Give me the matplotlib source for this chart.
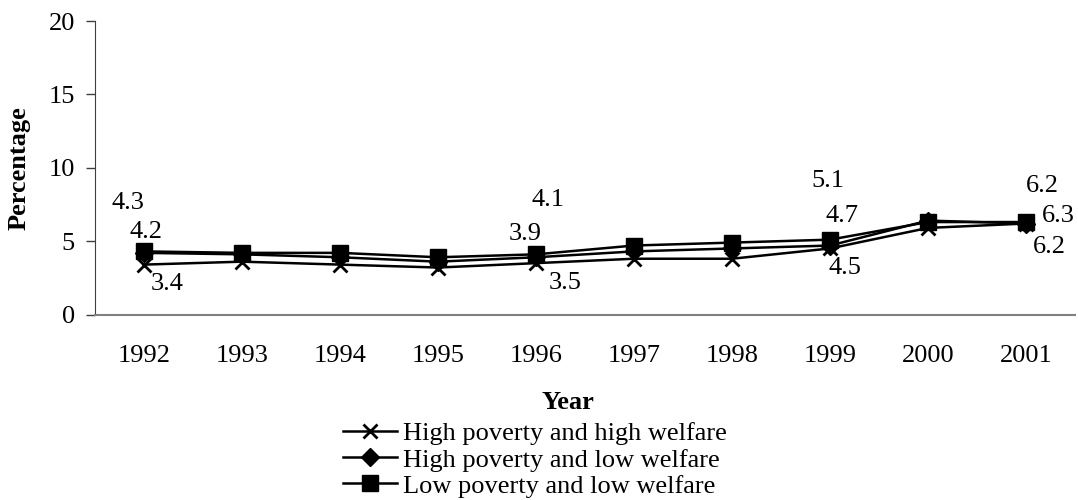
import matplotlib.pyplot as plt
import numpy as np

plt.rcParams['font.family'] = ['Liberation Serif', 'DejaVu Serif']

years = ['1992', '1993', '1994', '1995', '1996', '1997', '1998', '1999', '2000', '2001']
high_pov_high_wel = [3.4, 3.6, 3.4, 3.2, 3.5, 3.8, 3.8, 4.5, 5.9, 6.2]
high_pov_low_wel = [4.2, 4.1, 3.9, 3.6, 3.9, 4.3, 4.5, 4.7, 6.4, 6.2]
low_pov_low_wel = [4.3, 4.2, 4.2, 3.9, 4.1, 4.7, 4.9, 5.1, 6.3, 6.3]
labels = ['High poverty and high welfare', 'High poverty and low welfare', 'Low poverty and low welfare']

fs = 19

fig = plt.figure(figsize=(10.78, 5), dpi=100)
ax = fig.add_axes([0.0881, 0.371, 0.9091, 0.587])

x = np.arange(len(years))
l1, = ax.plot(x, high_pov_high_wel, color='black', lw=1.8, marker='x', ms=10, mew=2)
l2, = ax.plot(x, high_pov_low_wel, color='black', lw=1.8, marker='D', ms=9)
l3, = ax.plot(x, low_pov_low_wel, color='black', lw=1.8, marker='s', ms=11)

# etykiety z wartościami, przesunięcia w punktach
offs = {
    0: [(17, -14), (1.5, 15), (-11.5, 34.5)],
    4: [(21, -14), (-8, 17), (8.6, 39)],
    7: [(11, -14), (9, 21), (-1.5, 42)],
    9: [(17, -17), (12, 27), (23, 4)],
}
series = [high_pov_high_wel, high_pov_low_wel, low_pov_low_wel]
for i, o in offs.items():
    for s, d in zip(series, o):
        ax.annotate(f'{s[i]:.1f}', (i, s[i]), xytext=d, textcoords='offset points',
                    ha='center', va='center', fontsize=fs)

ax.set_xlim(-0.5, len(years) - 0.5)
ax.set_ylim(0, 20)
ax.set_yticks([0, 5, 10, 15, 20])
ax.set_xticks(x)
ax.set_xticklabels(years)
ax.tick_params(axis='x', length=0, pad=22, labelsize=fs)
ax.tick_params(axis='y', length=6.5, width=1, pad=8, labelsize=fs, color='#404040')
for sp in ['top', 'right']:
    ax.spines[sp].set_visible(False)
ax.spines['bottom'].set_color('#808080')
ax.spines['bottom'].set_linewidth(1.5)
ax.spines['left'].set_color('#404040')

ax.set_xlabel('Year', fontsize=fs, fontweight='bold')
ax.xaxis.set_label_coords(0.483, -0.262)
ax.set_ylabel('Percentage', fontsize=fs, fontweight='bold')
ax.yaxis.set_label_coords(-0.066, 0.5)

fig.legend([l1, l2, l3], labels, loc='upper left', bbox_to_anchor=(0.318, 0.156),
           frameon=False, fontsize=fs, handlelength=2.05, handletextpad=0.23,
           labelspacing=0.1, borderaxespad=0, borderpad=0)

plt.savefig('out.png', dpi=100)
